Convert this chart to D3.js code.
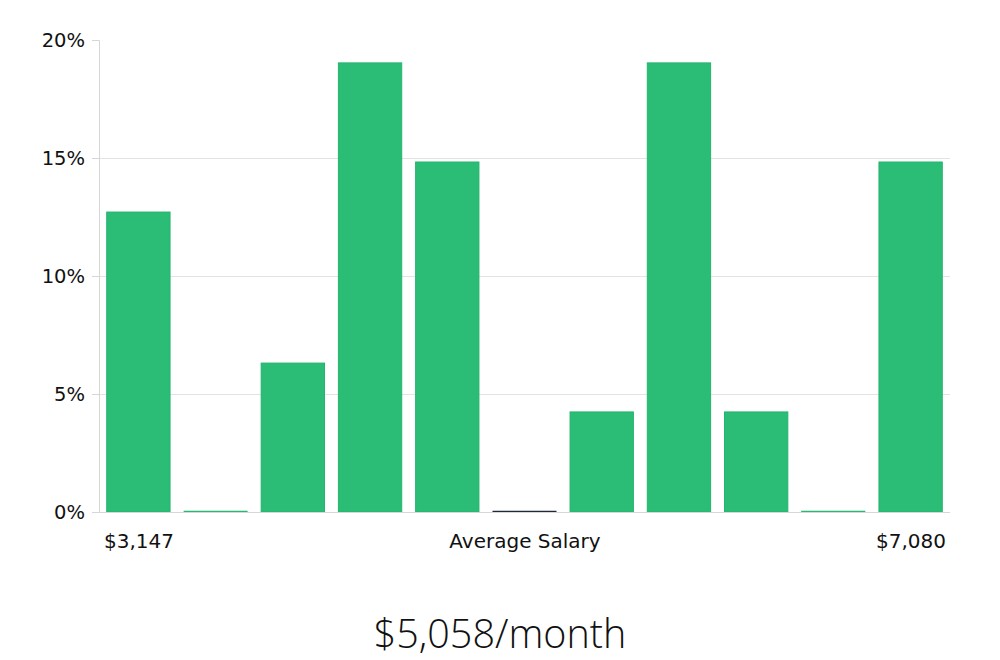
<!DOCTYPE html>
<html><head><meta charset="utf-8">
<script src="https://cdn.jsdelivr.net/npm/d3@7"></script>
<style>body{margin:0;background:#fff}</style>
</head><body>
<svg id="c" width="1000" height="660"></svg>
<script>
const bins = ["1","2","3","4","5","6","7","8","9","10","11"];
const shares = [12.71, 0, 6.31, 19.03, 14.83, 0, 4.24, 19.03, 4.24, 0, 14.83];
const highlightBin = "6";
const yTicks = [0, 5, 10, 15, 20];
const minLabel = "$3,147";
const maxLabel = "$7,080";
const axisTitle = "Average Salary";
const headline = "$5,058/month";

(function () {
const svg = d3.select("#c");
const mLeft = 99, mRight = 950, mTop = 40, mBottom = 512;
const x = d3.scaleBand().domain(bins).range([mLeft, mRight]).paddingInner(0.18).paddingOuter(0.1);
const y = d3.scaleLinear().domain([0, 20]).range([mBottom, mTop]);
const font = "DejaVu Sans, sans-serif";

// gridlines
svg.append("g").selectAll("line").data(yTicks.filter(d => d > 0 && d < 20)).join("line")
  .attr("x1", mLeft).attr("x2", mRight).attr("y1", d => y(d) + 0.5).attr("y2", d => y(d) + 0.5)
  .attr("stroke", "#e3e3e3").attr("stroke-width", 1);

// y axis
const ya = svg.append("g").attr("transform", `translate(${mLeft},0)`)
  .call(d3.axisLeft(y).tickValues(yTicks).tickFormat(d => d + "%").tickSize(7).tickPadding(7));
ya.select(".domain").attr("stroke", "#d6d6d6");
ya.selectAll(".tick line").attr("stroke", "#d6d6d6");
ya.selectAll("text").attr("font-family", font).attr("font-size", 19.5).attr("fill", "#111");

// bars
svg.append("g").selectAll("rect").data(bins).join("rect")
  .attr("x", d => x(d))
  .attr("width", x.bandwidth())
  .attr("y", (d, i) => shares[i] > 0 ? y(shares[i]) : mBottom - 1)
  .attr("height", (d, i) => shares[i] > 0 ? mBottom - y(shares[i]) : 1)
  .attr("fill", d => d === highlightBin ? "#1e2a3a" : "#2bbd76")
  .attr("stroke", d => d === highlightBin ? "#1e2a3a" : "#24b46d")
  .attr("stroke-width", (d, i) => shares[i] > 0 ? 1 : 0.5);

// x axis line
svg.append("line").attr("x1", mLeft).attr("x2", mRight).attr("y1", mBottom + 0.5).attr("y2", mBottom + 0.5)
  .attr("stroke", "#d6d6d6");

// x labels
const fs = 20;
svg.append("text").attr("x", 104).attr("y", 548).attr("font-family", font).attr("font-size", fs)
  .attr("fill", "#111").text(minLabel);
svg.append("text").attr("x", 946).attr("y", 548).attr("text-anchor", "end").attr("font-family", font)
  .attr("font-size", fs).attr("fill", "#111").text(maxLabel);
svg.append("text").attr("x", 525).attr("y", 548).attr("text-anchor", "middle").attr("font-family", font)
  .attr("font-size", fs).attr("fill", "#111").text(axisTitle);

// headline
svg.append("text").attr("x", 500).attr("y", 648).attr("text-anchor", "middle")
  .attr("font-family", "Open Sans, sans-serif").attr("font-weight", 300).attr("font-size", 39.5)
  .attr("fill", "#111").text(headline);
})();
</script>
</body></html>
